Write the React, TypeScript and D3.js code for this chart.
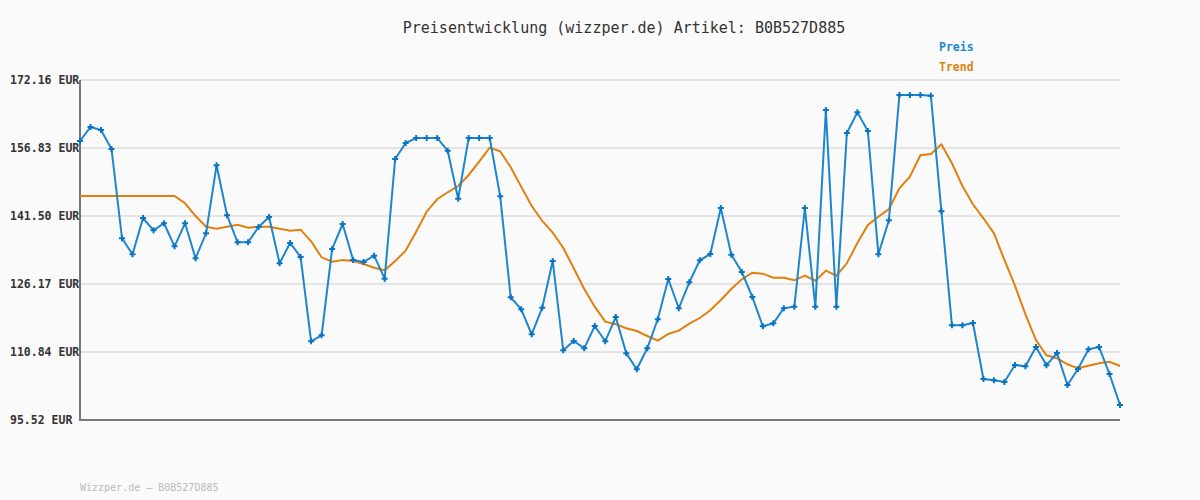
import React from "react";
import * as d3 from "d3";

const title = "Preisentwicklung (wizzper.de) Artikel: B0B527D885";
const footer = "Wizzper.de – B0B527D885";
const seriesNames = ["Preis", "Trend"];
const yTicks = [95.52, 110.84, 126.17, 141.5, 156.83, 172.16];
const yTickLabels = ["95.52 EUR", "110.84 EUR", "126.17 EUR", "141.50 EUR", "156.83 EUR", "172.16 EUR"];

const preis = [
  158.41, 161.57, 160.89, 156.61, 136.48, 132.87, 141.05, 138.28, 139.86, 134.67,
  139.86, 131.97, 137.6, 152.93, 141.66, 135.58, 135.58, 139.02, 141.28, 130.84,
  135.42, 132.26, 113.26, 114.61, 134.07, 139.7, 131.59, 131.14, 132.56, 127.37,
  154.35, 157.96, 159.09, 159.09, 159.09, 156.22, 145.4, 159.09, 159.09, 159.09,
  145.94, 123.18, 120.47, 114.84, 120.83, 131.36, 111.23, 113.33, 111.68, 116.71,
  113.26, 118.74, 110.56, 106.95, 111.68, 118.22, 127.3, 120.7, 126.56, 131.52,
  132.94, 143.31, 132.78, 128.88, 123.25, 116.64, 117.32, 120.7, 121.06, 143.31,
  121.06, 165.4, 121.06, 160.21, 164.88, 160.66, 132.87, 140.54, 168.78, 168.78,
  168.78, 168.62, 142.56, 116.87, 116.87, 117.39, 104.76, 104.47, 104.09, 107.92,
  107.62, 111.98, 107.85, 110.62, 103.41, 107.02, 111.46, 111.98, 105.89, 98.9,
];

const trend = [
  146.01, 146.01, 146.01, 146.01, 146.01, 146.01, 146.01, 146.01, 146.01, 146.01,
  144.37, 141.5, 139.09, 138.64, 139.09, 139.54, 138.87, 139.09, 139.09, 138.64,
  138.19, 138.42, 135.8, 132.19, 131.2, 131.59, 131.36, 130.68, 129.85, 129.26,
  131.36, 133.68, 137.97, 142.47, 145.27, 146.85, 148.27, 150.75, 153.74, 156.9,
  156.09, 152.48, 148.11, 143.76, 140.38, 137.74, 134.36, 129.72, 125.05, 121.06,
  117.68, 117.09, 116.19, 115.58, 114.46, 113.4, 114.91, 115.65, 117.23, 118.51,
  120.25, 122.57, 125.05, 127.24, 128.72, 128.5, 127.6, 127.6, 127.01, 128.05,
  126.92, 129.17, 128.05, 130.84, 135.42, 139.48, 141.35, 143.08, 147.75, 150.36,
  155.19, 155.48, 157.67, 153.38, 148.27, 144.14, 140.99, 137.6, 131.59, 125.79,
  119.35, 113.55, 110.1, 109.43, 108.08, 107.17, 107.76, 108.3, 108.66, 107.69,
];

const W = 1200;
const H = 500;
const M = { left: 80, right: 1120, top: 80, bottom: 420 };
const BLUE = "#1d86cc";
const MARK = "#0a74c4";
const ORANGE = "#e0800f";
const MONO = "'DejaVu Sans Mono', 'Liberation Mono', monospace";

export default function App() {
  const x = d3.scaleLinear().domain([0, preis.length - 1]).range([M.left, M.right]);
  const y = d3.scaleLinear().domain([yTicks[0], yTicks[yTicks.length - 1]]).range([M.bottom, M.top]);
  const line = d3
    .line<number>()
    .x((_, i) => x(i))
    .y((d) => y(d));
  const marker = d3.symbol().type(d3.symbolCross).size(20)() || "";

  return (
    <div style={{ position: "fixed", left: 0, top: 0, width: W, height: H, background: "#fafafa" }}>
      <svg width={W} height={H} style={{ display: "block" }}>
        <rect x={0} y={0} width={W} height={H} fill="#fafafa" />
        <text x={624} y={33} textAnchor="middle" fontFamily={MONO} fontSize={15} fill="#333">
          {title}
        </text>
        {yTicks.map((t, i) => (
          <g key={"g" + i}>
            {i > 0 && (
              <line x1={M.left} x2={M.right} y1={y(t)} y2={y(t)} stroke="#e4e4e4" strokeWidth={2} />
            )}
            <text x={10} y={y(t) + 4} fontFamily={MONO} fontWeight="bold" fontSize={11.5} fill="#333">
              {yTickLabels[i]}
            </text>
          </g>
        ))}
        <line x1={M.left} x2={M.left} y1={M.top} y2={M.bottom + 1} stroke="#777" strokeWidth={2} />
        <line x1={M.left - 1} x2={M.right} y1={M.bottom} y2={M.bottom} stroke="#777" strokeWidth={2} />
        <path d={line(trend) || ""} fill="none" stroke={ORANGE} strokeWidth={2} />
        <path d={line(preis) || ""} fill="none" stroke={BLUE} strokeWidth={2} />
        {preis.map((v, i) => (
          <path key={"m" + i} d={marker} transform={`translate(${x(i)},${y(v)})`} fill={MARK} />
        ))}
        <text x={939} y={51} fontFamily={MONO} fontWeight="bold" fontSize={11.5} fill={BLUE}>
          {seriesNames[0]}
        </text>
        <text x={939} y={71} fontFamily={MONO} fontWeight="bold" fontSize={11.5} fill={ORANGE}>
          {seriesNames[1]}
        </text>
        <text x={80} y={491} fontFamily={MONO} fontSize={10} fill="#bbb">
          {footer}
        </text>
      </svg>
    </div>
  );
}
